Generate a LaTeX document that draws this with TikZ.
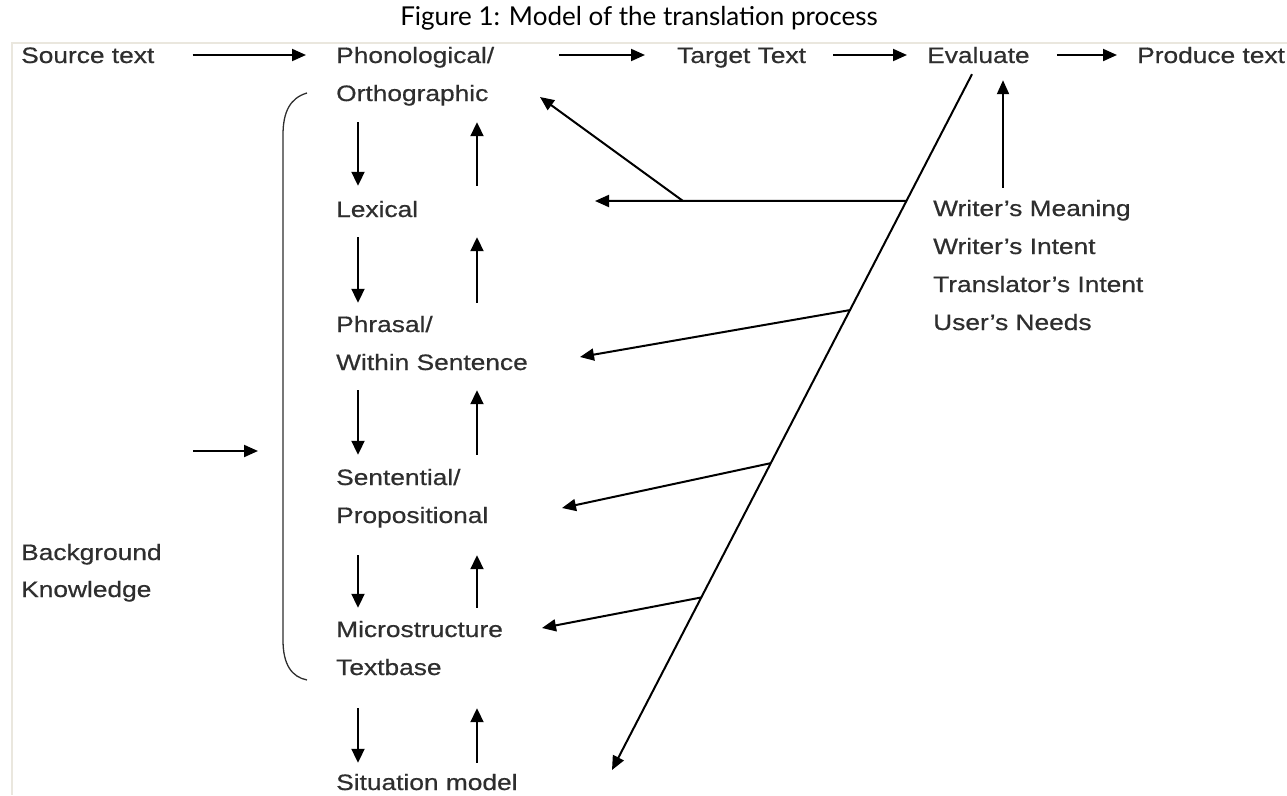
\documentclass[tikz,border=0pt]{standalone}
\usepackage{fontspec}
\setmainfont[FakeStretch=1.18, FakeBold=0.6]{Liberation Sans}
\newfontfamily\capfont{Lato}
\usepackage{tikz}
\usetikzlibrary{arrows.meta, calc}
\definecolor{framegray}{HTML}{EAE7DE}
\definecolor{inkgray}{HTML}{2E2E2E}

\begin{document}
\begin{tikzpicture}[x=1pt, y=-1pt,
      lbl/.style={inner sep=0pt, anchor=base west, text height=16pt, text depth=0pt,
                  text=inkgray, font=\fontsize{22.3}{27}\selectfont},
      arr/.style={-{Triangle[length=14pt, width=12pt]}, line width=2pt},
      vert/.style={-{Triangle[length=14pt, width=13pt]}, line width=2pt}]

    \useasboundingbox (0,0) rectangle (1287,795);

    % ── Caption and frame ──
    \node[anchor=base, inner sep=0pt, font=\capfont\fontsize{26}{30}\selectfont] (title)
      at (639,25) {Figure 1: Model of the translation process};
    \draw[framegray, line width=1.5pt] (1287,43) -- (12,43) -- (12,795);

    % ── Top row ──
    \node[lbl] (src)  at (21,63)   {Source text};
    \node[lbl] (phon) at (336,63)  {Phonological/};
    \node[lbl] (tgt)  at (677,63)  {Target Text};
    \node[lbl] (eval) at (927,63)  {Evaluate};
    \node[lbl] (prod) at (1137,63) {Produce text};

    % ── Levels ──
    \node[lbl] (orth)   at (336,101) {Orthographic};
    \node[lbl] (lex)    at (336,217) {Lexical};
    \node[lbl] (phr)    at (336,332) {Phrasal/};
    \node[lbl] (within) at (336,370) {Within Sentence};
    \node[lbl] (sent)   at (336,485) {Sentential/};
    \node[lbl] (prop)   at (336,523) {Propositional};
    \node[lbl] (micro)  at (336,637) {Microstructure};
    \node[lbl] (tbase)  at (336,675) {Textbase};
    \node[lbl] (sit)    at (336,790) {Situation model};

    % ── Background knowledge ──
    \node[lbl] (bg)   at (21,560) {Background};
    \node[lbl] (know) at (21,597) {Knowledge};

    % ── Meaning and intent ──
    \node[lbl] (wm) at (933,216) {Writer’s Meaning};
    \node[lbl] (wi) at (933,254) {Writer’s Intent};
    \node[lbl] (ti) at (933,292) {Translator’s Intent};
    \node[lbl] (un) at (933,330) {User’s Needs};

    % ── Top row arrows ──
    \draw[arr, shorten <=38pt, shorten >=30pt] (src) -- (phon);
    \draw[arr, shorten <=65pt, shorten >=32pt] (phon) -- (tgt);
    \draw[arr, shorten <=27pt, shorten >=20pt] (tgt) -- (eval);
    \draw[arr, shorten <=27pt, shorten >=20pt] (eval) -- (prod);

    % ── Down and up between levels ──
    \foreach \a/\b/\s/\e in {orth/lex/21/15, lex/phr/20/13, within/sent/20/14,
                             prop/micro/32/13, tbase/sit/33/11} {
      \draw[vert] ([shift={(22,\s)}]\a.south west) -- ([shift={(22,-\e)}]\b.north west);
      \draw[vert] ([shift={(141,-\e)}]\b.north west) -- ([shift={(141,\s)}]\a.south west);
    }

    % ── Bracket ──
    \draw[inkgray, line width=1.3pt] (307,93) .. controls (290,98) and (283,112) .. (283,135)
      -- (283,640) .. controls (283,665) and (292,677) .. (307,680);
    \coordinate (brace) at (283,451);
    \draw[arr, shorten <=172pt, shorten >=25pt] (brace -| bg.west) -- (brace);

    % ── Feedback line ──
    \coordinate (ftop) at ([shift={(45,11)}]eval.south west);
    \coordinate (fbot) at (612,770);
    \draw[arr] (ftop) -- (fbot);
    \coordinate (evalfoot) at ([shift={(76,17)}]eval.south west);
    \draw[arr] ([yshift=12pt]wm.north -| evalfoot) -- (evalfoot);

    \coordinate (b1) at ($(ftop)!0.182!(fbot)$);
    \coordinate (b2) at ($(ftop)!0.339!(fbot)$);
    \coordinate (b3) at ($(ftop)!0.559!(fbot)$);
    \coordinate (b4) at ($(ftop)!0.752!(fbot)$);
    \coordinate (b0) at (683,201);

    \coordinate (lexhead)    at (595,201);
    \coordinate (orthhead)   at (540,97);
    \coordinate (withinhead) at (580,357);
    \coordinate (prophead)   at (562,508);
    \coordinate (microhead)  at (542,628);

    \draw[arr] (b1) -- (lexhead);
    \draw[arr] (b0) -- (orthhead);
    \draw[arr] (b2) -- (withinhead);
    \draw[arr] (b3) -- (prophead);
    \draw[arr] (b4) -- (microhead);

  \end{tikzpicture}
\end{document}
